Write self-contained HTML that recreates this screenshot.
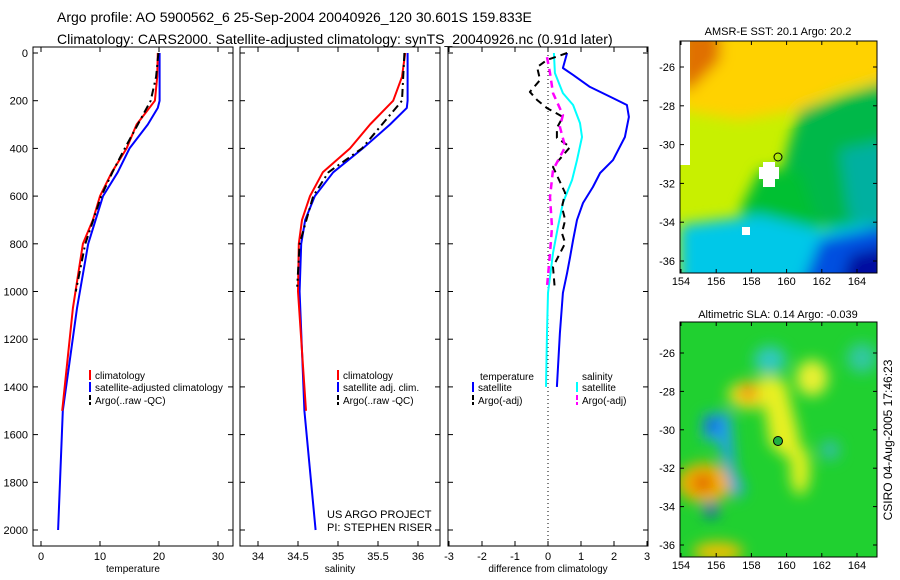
<!DOCTYPE html>
<html><head><meta charset="utf-8"><style>
body{margin:0;background:#fff;}
svg{display:block;font-family:"Liberation Sans",sans-serif;}
</style></head><body>
<svg id="s" width="900" height="580" viewBox="0 0 900 580">
<defs>
<filter id="bl" x="-20%" y="-20%" width="140%" height="140%"><feGaussianBlur stdDeviation="7"/></filter>
<clipPath id="c1"><rect x="680" y="41" width="197" height="232"/></clipPath>
<clipPath id="c2"><rect x="680" y="322" width="197" height="235"/></clipPath>
</defs>
<text x="57" y="22" font-size="14">Argo profile: AO 5900562_6 25-Sep-2004 20040926_120 30.601S 159.833E</text>
<text x="57" y="44" font-size="14">Climatology: CARS2000. Satellite-adjusted climatology: synTS_20040926.nc (0.91d later)</text>
<g clip-path="url(#c1)">
<rect x="680" y="41" width="197" height="232" fill="#c8f000"/>
<g filter="url(#bl)">
<polygon points="680,30 890,30 890,80 840,90 800,110 740,120 680,110" fill="#ffd200"/>
<polygon points="680,30 720,30 720,60 690,90 680,90" fill="#e07000"/>
<polygon points="800,110 890,80 890,230 840,230 800,220 780,180 790,140" fill="#00b848"/>
<polygon points="760,170 800,170 820,230 760,240 740,210" fill="#00c030"/>
<polygon points="680,225 760,215 820,230 890,220 890,290 680,290" fill="#00c8e8"/>
<polygon points="820,240 890,225 890,290 800,290" fill="#0050e0"/>
<polygon points="850,255 890,245 890,290 840,290" fill="#0010a0"/>
<polygon points="840,150 890,140 890,230 850,220" fill="#00b0a0"/>
</g>
<rect x="680" y="41" width="10" height="124" fill="#fff"/>
<rect x="763" y="162" width="12" height="25" fill="#fff"/><rect x="759" y="167" width="20" height="12" fill="#fff"/>
<rect x="742" y="227" width="8" height="8" fill="#fff"/>
<circle cx="778" cy="157" r="4" fill="none" stroke="#000"/>
</g>
<rect x="680" y="41" width="197" height="232" fill="none" stroke="#000"/>
<text x="778" y="35" font-size="11" text-anchor="middle">AMSR-E SST: 20.1 Argo: 20.2</text>
<g clip-path="url(#c2)">
<rect x="680" y="322" width="197" height="235" fill="#20d030"/>
<g filter="url(#bl)">
<ellipse cx="750" cy="395" rx="22" ry="14" fill="#f0e020"/>
<ellipse cx="748" cy="392" rx="8" ry="8" fill="#f08000"/>
<polygon points="760,375 785,380 800,440 790,460 770,445" fill="#e8f020"/>
<ellipse cx="800" cy="470" rx="10" ry="25" fill="#e0f020"/>
<ellipse cx="705" cy="483" rx="28" ry="20" fill="#f0b000"/>
<ellipse cx="703" cy="483" rx="10" ry="8" fill="#e05000"/>
<polygon points="703,415 730,412 735,470 745,490 735,500 718,440 703,440" fill="#20a0f0"/>
<ellipse cx="712" cy="425" rx="7" ry="6" fill="#0030d0"/>
<ellipse cx="711" cy="510" rx="7" ry="7" fill="#0040d0"/>
<ellipse cx="770" cy="360" rx="16" ry="14" fill="#30c8c0"/>
<ellipse cx="812" cy="378" rx="16" ry="18" fill="#e8f030"/>
<ellipse cx="862" cy="358" rx="15" ry="15" fill="#30c8a0"/>
<ellipse cx="718" cy="552" rx="25" ry="10" fill="#f0c000"/>
<ellipse cx="830" cy="450" rx="10" ry="10" fill="#30c0a0"/>
</g>
<circle cx="778" cy="441" r="4.5" fill="#20b040" stroke="#000"/>
</g>
<rect x="680" y="322" width="197" height="235" fill="none" stroke="#000"/>
<text x="778" y="318" font-size="11" text-anchor="middle">Altimetric SLA: 0.14 Argo: -0.039</text>
<text transform="translate(892,440) rotate(-90)" font-size="12" text-anchor="middle">CSIRO 04-Aug-2005 17:46:23</text>
<text x="327" y="518" font-size="11">US ARGO PROJECT</text>
<text x="327" y="531" font-size="11">PI: STEPHEN RISER</text>
</svg>
<script>
// depth axes (m)
const tClimDepth=[0,100,200,300,400,500,600,700,800,1070,1500];
const tClimVal=[19.8,19.7,19.3,16.2,14.5,12.0,10.0,8.8,7.1,5.4,3.6];
const tSatDepth=[0,200,230,300,400,500,600,800,1070,1500,2000];
const tSatVal=[20.1,20.1,19.8,18.1,15.0,13.0,10.5,8.0,6.1,3.7,2.9];
const tArgoDepth=[0,100,200,300,400,500,600,800,1000];
const tArgoVal=[19.9,19.5,18.6,16.4,14.2,12.1,10.2,7.5,5.9];
const sClimDepth=[0,100,200,300,400,500,600,700,800,1000,1500];
const sClimVal=[35.84,35.8,35.69,35.4,35.15,34.81,34.65,34.55,34.51,34.5,34.6];
const sSatDepth=[0,200,230,300,400,500,600,700,800,1000,1500,2000];
const sSatVal=[35.87,35.87,35.86,35.65,35.31,34.94,34.71,34.59,34.54,34.52,34.58,34.72];
const sArgoDepth=[0,200,300,400,500,600,800,980];
const sArgoVal=[35.83,35.8,35.55,35.3,34.88,34.69,34.52,34.49];
const dTSatDepth=[0,63,92,142,189,218,268,352,449,503,562,629,700,784,855,922,1006,1174,1400];
const dTSatVal=[0.58,0.45,0.76,1.27,1.97,2.39,2.45,2.33,1.97,1.58,1.36,1.06,0.88,0.76,0.67,0.58,0.45,0.36,0.27];
const dSSatDepth=[0,84,168,218,294,352,449,532,629,730,839,1006,1174,1400];
const dSSatVal=[0.18,0.21,0.45,0.76,0.97,1.03,0.88,0.73,0.45,0.3,0.15,0,-0.03,-0.06];
const dTArgoDepth=[0,29,59,113,163,197,231,268,314,356,394,478,587,646,700,755,797,897,994];
const dTArgoVal=[0.58,-0.03,-0.33,-0.24,-0.55,-0.33,-0.03,0.45,0.27,0.27,0.67,0.15,0.52,0.42,0.52,0.42,0.52,0.15,0.21];
const dSArgoDepth=[17,84,168,260,310,394,490,604,730,839,981];
const dSArgoVal=[-0.03,0.06,0.15,0.45,0.36,0.52,0.15,0.06,0.12,0.06,-0.03];
const depthTicks=[0,200,400,600,800,1000,1200,1400,1600,1800,2000];
const tTicks=[0,10,20,30];
const sTicks=[34,34.5,35,35.5,36];
const dTicks=[-3,-2,-1,0,1,2,3];
const lonTicks=[154,156,158,160,162,164];
const latTicks=[-26,-28,-30,-32,-34,-36];

const svg=document.getElementById('s');
const NS='http://www.w3.org/2000/svg';
function mk(tag,attrs,parent){const e=document.createElementNS(NS,tag);for(const k in attrs)e.setAttribute(k,attrs[k]);(parent||svg).appendChild(e);return e;}
function txt(x,y,s,anchor,size,parent){const e=mk('text',{x:x,y:y,'font-size':size||11,'text-anchor':anchor||'start'},parent);e.textContent=s;return e;}
const Y=d=>53+d*0.2385;
const panels=[
 {name:'temperature',x0:33,x1:233,sx:v=>41+v*5.9,ticks:tTicks,label:'temperature'},
 {name:'salinity',x0:240,x1:440,sx:v=>298+(v-34.5)*80,ticks:sTicks,label:'salinity'},
 {name:'difference',x0:448,x1:648,sx:v=>548+v*33,ticks:dTicks,label:'difference from climatology'}
];
panels.forEach((p,i)=>{
 const g=mk('g',{});
 
 
 const r=mk('rect',{x:p.x0,y:47,width:p.x1-p.x0,height:499,fill:'none',stroke:'#000'},g);
 
 
 depthTicks.forEach(d=>{
  mk('line',{x1:p.x0,x2:p.x0+5,y1:Y(d),y2:Y(d),stroke:'#000'},g);
  mk('line',{x1:p.x1,x2:p.x1-5,y1:Y(d),y2:Y(d),stroke:'#000'},g);
  if(i===0){const t=txt(28,Y(d)+4,String(d),'end',11,g);
   
   }
 });
 p.ticks.forEach(v=>{
  const x=p.sx(v);
  mk('line',{x1:x,x2:x,y1:47,y2:52,stroke:'#000'},g);
  mk('line',{x1:x,x2:x,y1:546,y2:541,stroke:'#000'},g);
  const t=txt(x,560,String(v),'middle',11,g);
  
  
 });
 const xl=txt((p.x0+p.x1)/2,572,p.label,'middle',10,g);
 
 
});
function series(p,depths,vals,color,dash,w,name){
 const pts=depths.map((d,k)=>p.sx(vals[k]).toFixed(1)+','+Y(d).toFixed(1)).join(' ');
 const e=mk('polyline',{points:pts,fill:'none',stroke:color,'stroke-width':w||2,'stroke-dasharray':dash||'none','stroke-linejoin':'round'});
 
 
}
// zero line
const zl=mk('line',{x1:548,x2:548,y1:47,y2:546,stroke:'#000','stroke-dasharray':'1,3'});


series(panels[0],tSatDepth,tSatVal,'#0000ff','',2,'temp-satellite-line');
series(panels[0],tClimDepth,tClimVal,'#ff0000','',2,'temp-climatology-line');
series(panels[0],tArgoDepth,tArgoVal,'#000','8,4,2,4',2,'temp-argo-line');
series(panels[1],sSatDepth,sSatVal,'#0000ff','',2,'sal-satellite-line');
series(panels[1],sClimDepth,sClimVal,'#ff0000','',2,'sal-climatology-line');
series(panels[1],sArgoDepth,sArgoVal,'#000','8,4,2,4',2,'sal-argo-line');
series(panels[2],dTSatDepth,dTSatVal,'#0000ff','',2,'diff-temp-satellite-line');
series(panels[2],dSSatDepth,dSSatVal,'#00ffff','',2,'diff-sal-satellite-line');
series(panels[2],dTArgoDepth,dTArgoVal,'#000','7,5',2,'diff-temp-argo-line');
series(panels[2],dSArgoDepth,dSArgoVal,'#ff00ff','7,5',2.5,'diff-sal-argo-line');
// legends
function leg(x,y,color,dash,label,name){
 const l=mk('line',{x1:x,x2:x,y1:y-9,y2:y+1,stroke:color,'stroke-width':2,'stroke-dasharray':dash||'none'});
 
 
 const t=txt(x+5,y,label,'start',10);
 
 
}
leg(90,379,'#ff0000','','climatology','legend-climatology');
leg(90,391,'#0000ff','','satellite-adjusted climatology','legend-satellite-adjusted');
leg(90,404,'#000','5,2','Argo(..raw -QC)','legend-argo');
leg(338,379,'#ff0000','','climatology','legend-sal-climatology');
leg(338,391,'#0000ff','','satellite adj. clim.','legend-sal-satellite');
leg(338,404,'#000','5,2','Argo(..raw -QC)','legend-sal-argo');
const lt=txt(480,380,'temperature','start',10);


leg(473,391,'#0000ff','','satellite','legend-diff-temp-satellite');
leg(473,404,'#000','5,2','Argo(-adj)','legend-diff-temp-argo');
const ls=txt(582,380,'salinity','start',10);


leg(577,391,'#00ffff','','satellite','legend-diff-sal-satellite');
leg(577,404,'#ff00ff','5,2','Argo(-adj)','legend-diff-sal-argo');
// map ticks
[[41,273,67,261],[322,557,353,545]].forEach((m,mi)=>{
 const [top,bot,y26,y36]=m;
 lonTicks.forEach(v=>{
  const x=681+(v-154)*17.6;
  mk('line',{x1:x,x2:x,y1:top,y2:top+4,stroke:'#000'});
  mk('line',{x1:x,x2:x,y1:bot,y2:bot-4,stroke:'#000'});
  const t=txt(x,bot+12,String(v),'middle',11);
  
  
 });
 latTicks.forEach(v=>{
  const y=y26+(-26-v)/10*(y36-y26);
  mk('line',{x1:680,x2:684,y1:y,y2:y,stroke:'#000'});
  mk('line',{x1:877,x2:873,y1:y,y2:y,stroke:'#000'});
  const t=txt(675,y+4,String(v),'end',11);
  
  
 });
});
</script>
</body></html>
